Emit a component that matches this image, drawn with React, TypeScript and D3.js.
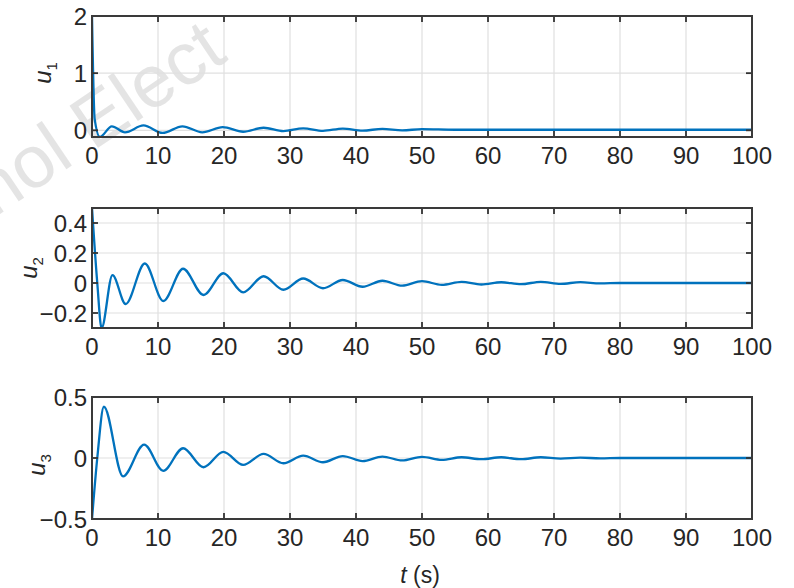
import React, { useEffect, useRef } from "react";
import * as d3 from "d3";

// keypoints (t in s)
const t1 = [0, 0.4, 1.2, 3.0, 5.0, 7.8, 10.7, 13.7, 16.7, 19.8, 22.9, 26, 29, 32, 35, 38, 41, 44, 47, 50, 55, 60, 100];
const u1 = [2, 0.2, -0.115, 0.07, -0.035, 0.085, -0.045, 0.07, -0.035, 0.055, -0.025, 0.045, -0.015, 0.035, -0.01, 0.03, -0.005, 0.025, 0.0, 0.02, 0.01, 0.01, 0.01];

const t2 = [0, 0.8, 1.45, 3.1, 5.1, 8.0, 10.8, 13.8, 16.9, 19.9, 22.9, 26, 29, 32, 35, 38, 41, 44, 47, 50, 53, 56, 59, 62, 65, 68, 71, 74, 77, 80, 100];
const u2 = [0.5, 0, -0.3, 0.053, -0.14, 0.13, -0.12, 0.095, -0.08, 0.065, -0.062, 0.045, -0.045, 0.03, -0.035, 0.02, -0.025, 0.015, -0.018, 0.012, -0.012, 0.008, -0.01, 0.005, -0.008, 0.008, -0.006, 0.006, -0.003, 0, 0];

const t3 = [0, 0.8, 1.8, 4.7, 7.9, 10.8, 13.8, 16.9, 19.9, 22.9, 26, 29, 32, 35, 38, 41, 44, 47, 50, 53, 56, 59, 62, 65, 68, 71, 74, 77, 80, 100];
const u3 = [-0.5, 0, 0.42, -0.15, 0.11, -0.105, 0.08, -0.076, 0.05, -0.057, 0.033, -0.043, 0.02, -0.035, 0.016, -0.025, 0.012, -0.02, 0.01, -0.015, 0.006, -0.01, 0.006, -0.01, 0.006, -0.005, 0.003, -0.003, 0, 0];

const xTicks = [0, 10, 20, 30, 40, 50, 60, 70, 80, 90, 100];
const yTicks1 = [0, 1, 2];
const yTicks2 = [-0.2, 0, 0.2, 0.4];
const yTicks3 = [-0.5, 0, 0.5];

const width = 794;
const height = 588;
const left = 92;
const right = 752;
const font = "'Liberation Sans', Arial, sans-serif";
const lineColor = "#0072BD";

const panels = [
  { t: t1, u: u1, top: 16, bottom: 137, domain: [-0.117, 2], ticks: yTicks1, sub: "1", lab: [42, 73] },
  { t: t2, u: u2, top: 208, bottom: 328, domain: [-0.3, 0.5], ticks: yTicks2, sub: "2", lab: [28, 268] },
  { t: t3, u: u3, top: 397, bottom: 519, domain: [-0.5, 0.5], ticks: yTicks3, sub: "3", lab: [36, 465] },
];

const fmt = (d: number) => (d < 0 ? "\u2212" + String(-d) : String(d));

const App = () => {
  const ref = useRef<SVGSVGElement>(null);

  useEffect(() => {
    const svg = d3.select(ref.current);
    svg.selectAll("*").remove();

    const x = d3.scaleLinear().domain([0, 100]).range([left, right]);

    // watermark (behind the axes)
    svg
      .append("text")
      .attr("transform", "translate(-6,218) rotate(-34)")
      .attr("font-family", font)
      .attr("font-size", 74)
      .attr("fill", "#cfcfcf")
      .attr("opacity", 0.55)
      .text("nol Elect");

    panels.forEach((p, i) => {
      const y = d3.scaleLinear().domain(p.domain).range([p.bottom, p.top]);
      const g = svg.append("g");

      // grid
      g.selectAll(".gx")
        .data(xTicks)
        .enter()
        .append("line")
        .attr("x1", (d) => x(d))
        .attr("x2", (d) => x(d))
        .attr("y1", p.top)
        .attr("y2", p.bottom)
        .attr("stroke", "#e0e0e0")
        .attr("stroke-width", 1.2);
      g.selectAll(".gy")
        .data(p.ticks)
        .enter()
        .append("line")
        .attr("x1", left)
        .attr("x2", right)
        .attr("y1", (d) => y(d))
        .attr("y2", (d) => y(d))
        .attr("stroke", "#e0e0e0")
        .attr("stroke-width", 1.2);

      // data line
      const clipId = "clip" + i;
      svg
        .append("clipPath")
        .attr("id", clipId)
        .append("rect")
        .attr("x", left)
        .attr("y", p.top)
        .attr("width", right - left)
        .attr("height", p.bottom - p.top);
      const pts = p.t.map((t, k) => [t, p.u[k]] as [number, number]);
      const line = d3
        .line<[number, number]>()
        .x((d) => x(d[0]))
        .y((d) => y(d[1]))
        .curve(d3.curveMonotoneX);
      g.append("path")
        .attr("d", line(pts))
        .attr("fill", "none")
        .attr("stroke", lineColor)
        .attr("stroke-width", 2.3)
        .attr("clip-path", `url(#${clipId})`);

      // ticks (inward, both sides)
      const tk = 6;
      xTicks.forEach((d) => {
        g.append("line").attr("x1", x(d)).attr("x2", x(d)).attr("y1", p.bottom).attr("y2", p.bottom - tk).attr("stroke", "#333").attr("stroke-width", 1.8);
        g.append("line").attr("x1", x(d)).attr("x2", x(d)).attr("y1", p.top).attr("y2", p.top + tk).attr("stroke", "#333").attr("stroke-width", 1.8);
      });
      p.ticks.forEach((d) => {
        g.append("line").attr("x1", left).attr("x2", left + tk).attr("y1", y(d)).attr("y2", y(d)).attr("stroke", "#333").attr("stroke-width", 1.8);
        g.append("line").attr("x1", right).attr("x2", right - tk).attr("y1", y(d)).attr("y2", y(d)).attr("stroke", "#333").attr("stroke-width", 1.8);
      });

      // box
      g.append("rect")
        .attr("x", left)
        .attr("y", p.top)
        .attr("width", right - left)
        .attr("height", p.bottom - p.top)
        .attr("fill", "none")
        .attr("stroke", "#3a3a3a")
        .attr("stroke-width", 2);

      // tick labels
      g.selectAll(".xl")
        .data(xTicks)
        .enter()
        .append("text")
        .attr("x", (d) => x(d))
        .attr("y", p.bottom + 18)
        .attr("dy", "0.36em")
        .attr("text-anchor", "middle")
        .attr("font-family", font)
        .attr("font-size", 24)
        .attr("fill", "#262626")
        .text((d) => String(d));
      g.selectAll(".yl")
        .data(p.ticks)
        .enter()
        .append("text")
        .attr("x", left - 5)
        .attr("y", (d) => y(d))
        .attr("dy", "0.36em")
        .attr("text-anchor", "end")
        .attr("font-family", font)
        .attr("font-size", 24)
        .attr("fill", "#262626")
        .text((d) => fmt(d));

      // y label
      const yl = g
        .append("text")
        .attr("transform", `translate(${p.lab[0]},${p.lab[1]}) rotate(-90)`)
        .attr("text-anchor", "middle")
        .attr("dy", "0.36em")
        .attr("font-family", font)
        .attr("font-size", 24)
        .attr("fill", "#262626");
      yl.append("tspan").attr("font-style", "italic").text("u");
      yl.append("tspan").attr("font-size", 15).attr("dy", 6).text(p.sub);
    });

    // x label
    const xl = svg
      .append("text")
      .attr("x", 420)
      .attr("y", 575)
      .attr("dy", "0.36em")
      .attr("text-anchor", "middle")
      .attr("font-family", font)
      .attr("font-size", 23)
      .attr("fill", "#262626");
    xl.append("tspan").attr("font-style", "italic").text("t");
    xl.append("tspan").text(" (s)");
  }, []);

  return (
    <svg
      ref={ref}
      width={width}
      height={height}
      style={{ position: "absolute", left: 0, top: 0, background: "#fff" }}
    />
  );
};

export default App;
